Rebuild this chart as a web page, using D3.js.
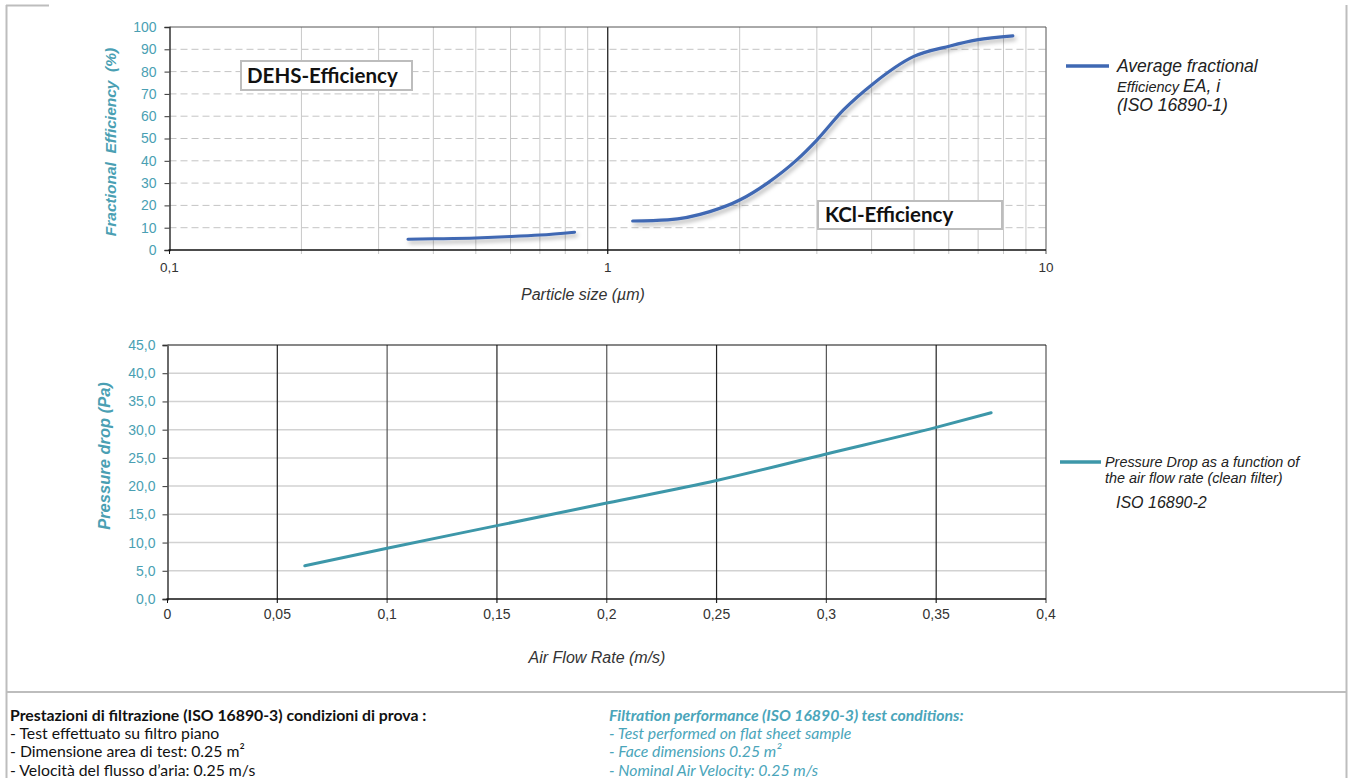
<!DOCTYPE html>
<html><head><meta charset="utf-8">
<script src="https://cdn.jsdelivr.net/npm/d3@7"></script>
<style>body{margin:0;background:#fff} svg{display:block}</style>
</head><body><svg id="c" width="1351" height="778"></svg>
<script>
// ---- data ----
const dehsSize = [0.35, 0.4, 0.5, 0.6, 0.7, 0.84];
const dehsEff  = [4.8, 5.0, 5.4, 6.0, 6.7, 8.0];
const kclSize  = [1.14, 1.37, 1.71, 2.0, 2.31, 2.7, 3.0, 3.45, 4.04, 4.98, 6.04, 6.95, 8.4];
const kclEff   = [13.0, 13.5, 17.2, 22.4, 29.9, 40.4, 49.3, 62.8, 74.7, 86.7, 91.5, 94.2, 96.0];
const effTicks = [0, 10, 20, 30, 40, 50, 60, 70, 80, 90, 100];
const sizeMajor = [0.1, 1, 10];
const sizeMajorLabels = ["0,1", "1", "10"];
const sizeMinor = [0.2,0.3,0.4,0.5,0.6,0.7,0.8,0.9,2,3,4,5,6,7,8,9];
const flowRate = [0.0625, 0.1, 0.15, 0.2, 0.25, 0.3, 0.35, 0.375];
const pressure = [5.9, 9.0, 13.0, 17.0, 21.0, 25.7, 30.4, 33.0];
const pTicks = [0, 5, 10, 15, 20, 25, 30, 35, 40, 45];
const flowTicks = [0, 0.05, 0.1, 0.15, 0.2, 0.25, 0.3, 0.35, 0.4];
const flowLabels = ["0", "0,05", "0,1", "0,15", "0,2", "0,25", "0,3", "0,35", "0,4"];

const teal = "#4a9fb3";
const svg = d3.select("#c");
const F = "'Liberation Sans', Arial, sans-serif";

const defs = svg.append("defs");
const f = defs.append("filter").attr("id","sh").attr("x","-10%").attr("y","-50%").attr("width","130%").attr("height","300%");
f.append("feDropShadow").attr("dx",2).attr("dy",3).attr("stdDeviation",2.2).attr("flood-color","#000").attr("flood-opacity",0.3);

// outer frame
svg.append("line").attr("x1",6.5).attr("x2",6.5).attr("y1",5).attr("y2",778).attr("stroke","#bdbdbd").attr("stroke-width",2);
svg.append("line").attr("x1",1346.5).attr("x2",1346.5).attr("y1",5).attr("y2",778).attr("stroke","#bdbdbd").attr("stroke-width",2);
svg.append("line").attr("x1",6).attr("x2",49).attr("y1",5.5).attr("y2",5.5).attr("stroke","#bdbdbd").attr("stroke-width",2);
svg.append("line").attr("x1",6).attr("x2",1347).attr("y1",692).attr("y2",692).attr("stroke","#bdbdbd").attr("stroke-width",2);

// ---- top chart ----
const x1 = d3.scaleLog().domain([0.1, 10]).range([169.5, 1046]);
const y1 = d3.scaleLinear().domain([0, 100]).range([250, 27]);
const g1 = svg.append("g");

g1.selectAll(".hg").data(effTicks.filter(d=>d>0 && d<100)).join("line")
  .attr("x1",x1(0.1)).attr("x2",x1(10)).attr("y1",d=>y1(d)).attr("y2",d=>y1(d))
  .attr("stroke","#c4c4c4").attr("stroke-width",1).attr("stroke-dasharray","7,4");
g1.selectAll(".vg").data(sizeMinor).join("line")
  .attr("x1",d=>x1(d)).attr("x2",d=>x1(d)).attr("y1",y1(100)).attr("y2",y1(0)+4)
  .attr("stroke","#c8c8c8").attr("stroke-width",1);
g1.append("line").attr("x1",x1(1)).attr("x2",x1(1)).attr("y1",y1(100)).attr("y2",y1(0)+4).attr("stroke","#111").attr("stroke-width",1.2);
g1.append("line").attr("x1",x1(0.1)).attr("x2",x1(10)).attr("y1",y1(100)).attr("y2",y1(100)).attr("stroke","#555").attr("stroke-width",1);
g1.append("line").attr("x1",x1(10)).attr("x2",x1(10)).attr("y1",y1(100)).attr("y2",y1(0)+4).attr("stroke","#555").attr("stroke-width",1);
const ya1 = g1.append("g").attr("transform",`translate(${x1(0.1)},0)`)
  .call(d3.axisLeft(y1).tickValues(effTicks).tickSize(5).tickPadding(8));
ya1.select(".domain").attr("stroke","#333").attr("stroke-width",1.5);
ya1.selectAll(".tick line").attr("stroke","#333");
ya1.selectAll("text").attr("fill",teal).style("font-family",F).style("font-size","14px");
g1.append("line").attr("x1",x1(0.1)-1).attr("x2",x1(10)).attr("y1",y1(0)).attr("y2",y1(0)).attr("stroke","#111").attr("stroke-width",1.5);
g1.append("line").attr("x1",x1(0.1)).attr("x2",x1(0.1)).attr("y1",y1(0)).attr("y2",y1(0)+4).attr("stroke","#111");
g1.selectAll(".xl").data(sizeMajor).join("text")
  .attr("x",d=>x1(d)).attr("y",272).attr("text-anchor","middle")
  .style("font-family",F).style("font-size","13.5px").attr("fill","#333")
  .text((d,i)=>sizeMajorLabels[i]);
g1.append("text").attr("transform","translate(116,142) rotate(-90)").attr("text-anchor","middle")
  .style("font-family",F).style("font-size","15.5px").style("font-style","italic").style("font-weight","bold")
  .attr("fill",teal).attr("xml:space","preserve").text("Fractional  Efficiency  (%)");
g1.append("text").attr("x",583).attr("y",300).attr("text-anchor","middle")
  .style("font-family",F).style("font-size","16px").style("font-style","italic").attr("fill","#333")
  .text("Particle size (\u00b5m)");
const line1 = d3.line().x(d=>x1(d[0])).y(d=>y1(d[1])).curve(d3.curveMonotoneX);
g1.append("path").datum(dehsSize.map((s,i)=>[s,dehsEff[i]])).attr("d",line1)
  .attr("fill","none").attr("stroke","#3f68b3").attr("stroke-width",3).attr("stroke-linecap","round").attr("filter","url(#sh)");
g1.append("path").datum(kclSize.map((s,i)=>[s,kclEff[i]])).attr("d",line1)
  .attr("fill","none").attr("stroke","#3f68b3").attr("stroke-width",3.2).attr("stroke-linecap","round").attr("filter","url(#sh)");
function box(x,y,w,h,t,tx,ty){
  g1.append("rect").attr("x",x).attr("y",y).attr("width",w).attr("height",h).attr("fill","#fff").attr("stroke","#bdbdbd").attr("stroke-width",2);
  g1.append("text").attr("x",tx).attr("y",ty).style("font-family","Lato, 'Open Sans', sans-serif").style("font-weight","bold").style("font-size","20.5px").attr("fill","#111").text(t);
}
box(241,61,171,29,"DEHS-Efficiency",247,83);
box(818,201,184,28,"KCl-Efficiency",825,222);
// legend top
g1.append("line").attr("x1",1066).attr("x2",1109).attr("y1",66).attr("y2",66).attr("stroke","#3f68b3").attr("stroke-width",3.5);
g1.append("text").attr("x",1117).attr("y",72).style("font-family",F).style("font-style","italic").style("font-size","17.5px").attr("fill","#222").text("Average fractional");
const l2 = g1.append("text").style("font-family",F).style("font-style","italic").attr("fill","#222").attr("x",1117).attr("y",92);
l2.append("tspan").style("font-size","14.5px").text("Efficiency ");
l2.append("tspan").style("font-size","17.5px").text("EA, i");
g1.append("text").attr("x",1117).attr("y",111).style("font-family",F).style("font-style","italic").style("font-size","17.5px").attr("fill","#222").text("(ISO 16890-1)");

// ---- bottom chart ----
const x2 = d3.scaleLinear().domain([0, 0.4]).range([167.5, 1046]);
const y2 = d3.scaleLinear().domain([0, 45]).range([599, 345]);
const g2 = svg.append("g");
g2.selectAll(".hg").data(pTicks.filter(d=>d>0 && d<45)).join("line")
  .attr("x1",x2(0)).attr("x2",x2(0.4)).attr("y1",d=>y2(d)).attr("y2",d=>y2(d))
  .attr("stroke","#d2d2d2").attr("stroke-width",1.5);
g2.selectAll(".vg").data(flowTicks.filter(d=>d>0)).join("line")
  .attr("x1",d=>x2(d)).attr("x2",d=>x2(d)).attr("y1",y2(45)).attr("y2",y2(0)+4)
  .attr("stroke",(d,i)=> i%2===0 ? "#222" : "#555").attr("stroke-width",1.2);
g2.append("line").attr("x1",x2(0)).attr("x2",x2(0.4)).attr("y1",y2(45)).attr("y2",y2(45)).attr("stroke","#111").attr("stroke-width",1.2);
const ya2 = g2.append("g").attr("transform",`translate(${x2(0)},0)`)
  .call(d3.axisLeft(y2).tickValues(pTicks).tickSize(5).tickPadding(7).tickFormat(d=>d3.format(".1f")(d).replace(".",",")));
ya2.select(".domain").attr("stroke","#6a6a6a").attr("stroke-width",2);
ya2.selectAll(".tick line").attr("stroke","#333");
ya2.selectAll("text").attr("fill",teal).style("font-family",F).style("font-size","14px");
g2.append("line").attr("x1",x2(0)-1).attr("x2",x2(0.4)).attr("y1",y2(0)).attr("y2",y2(0)).attr("stroke","#111").attr("stroke-width",1.5);
g2.append("line").attr("x1",x2(0)).attr("x2",x2(0)).attr("y1",y2(0)).attr("y2",y2(0)+4).attr("stroke","#111");
g2.selectAll(".xl").data(flowTicks).join("text")
  .attr("x",d=>x2(d)).attr("y",619).attr("text-anchor","middle")
  .style("font-family",F).style("font-size","14px").attr("fill","#333")
  .text((d,i)=>flowLabels[i]);
g2.append("text").attr("transform","translate(110,456) rotate(-90)").attr("text-anchor","middle")
  .style("font-family",F).style("font-size","16.5px").style("font-style","italic").style("font-weight","bold")
  .attr("fill",teal).text("Pressure drop (Pa)");
g2.append("text").attr("x",597).attr("y",663).attr("text-anchor","middle")
  .style("font-family",F).style("font-size","16px").style("font-style","italic").attr("fill","#333")
  .text("Air Flow Rate (m/s)");
const line2 = d3.line().x(d=>x2(d[0])).y(d=>y2(d[1])).curve(d3.curveMonotoneX);
g2.append("path").datum(flowRate.map((r,i)=>[r,pressure[i]])).attr("d",line2)
  .attr("fill","none").attr("stroke","#3d97a9").attr("stroke-width",3).attr("stroke-linecap","round");
g2.append("line").attr("x1",1060).attr("x2",1101).attr("y1",462).attr("y2",462).attr("stroke","#3d97a9").attr("stroke-width",3.5);
[["Pressure Drop as a function of",1105,467,14.4],["the air flow rate (clean filter)",1105,483,14.4],["ISO 16890-2",1116,508,16]].forEach(t=>{
  g2.append("text").attr("x",t[1]).attr("y",t[2]).style("font-family",F).style("font-style","italic").style("font-size",t[3]+"px").attr("fill","#222").text(t[0]);
});

// ---- footer text ----
const LF = "Lato, 'Open Sans', sans-serif";
const leftLines = ["Prestazioni di filtrazione (ISO 16890-3) condizioni di prova :","- Test effettuato su filtro piano","- Dimensione area di test: 0.25 m\u00b2","- Velocit\u00e0 del flusso d\u2019aria: 0.25 m/s"];
const rightLines = ["Filtration performance (ISO 16890-3) test conditions:","- Test performed on flat sheet sample","- Face dimensions 0.25 m\u00b2","- Nominal Air Velocity: 0.25 m/s"];
leftLines.forEach((t,i)=>{
  svg.append("text").attr("x",10).attr("y",721+i*18.2).style("font-family",LF).style("font-size","15.8px")
    .style("font-weight",i===0?"bold":"normal").attr("fill","#111").text(t);
});
rightLines.forEach((t,i)=>{
  svg.append("text").attr("x",609).attr("y",721+i*18.2).style("font-family",LF).style("font-size","15.8px")
    .style("font-style","italic").style("font-weight",i===0?"bold":"normal").attr("fill","#4aa5ba").text(t);
});
</script></body></html>
